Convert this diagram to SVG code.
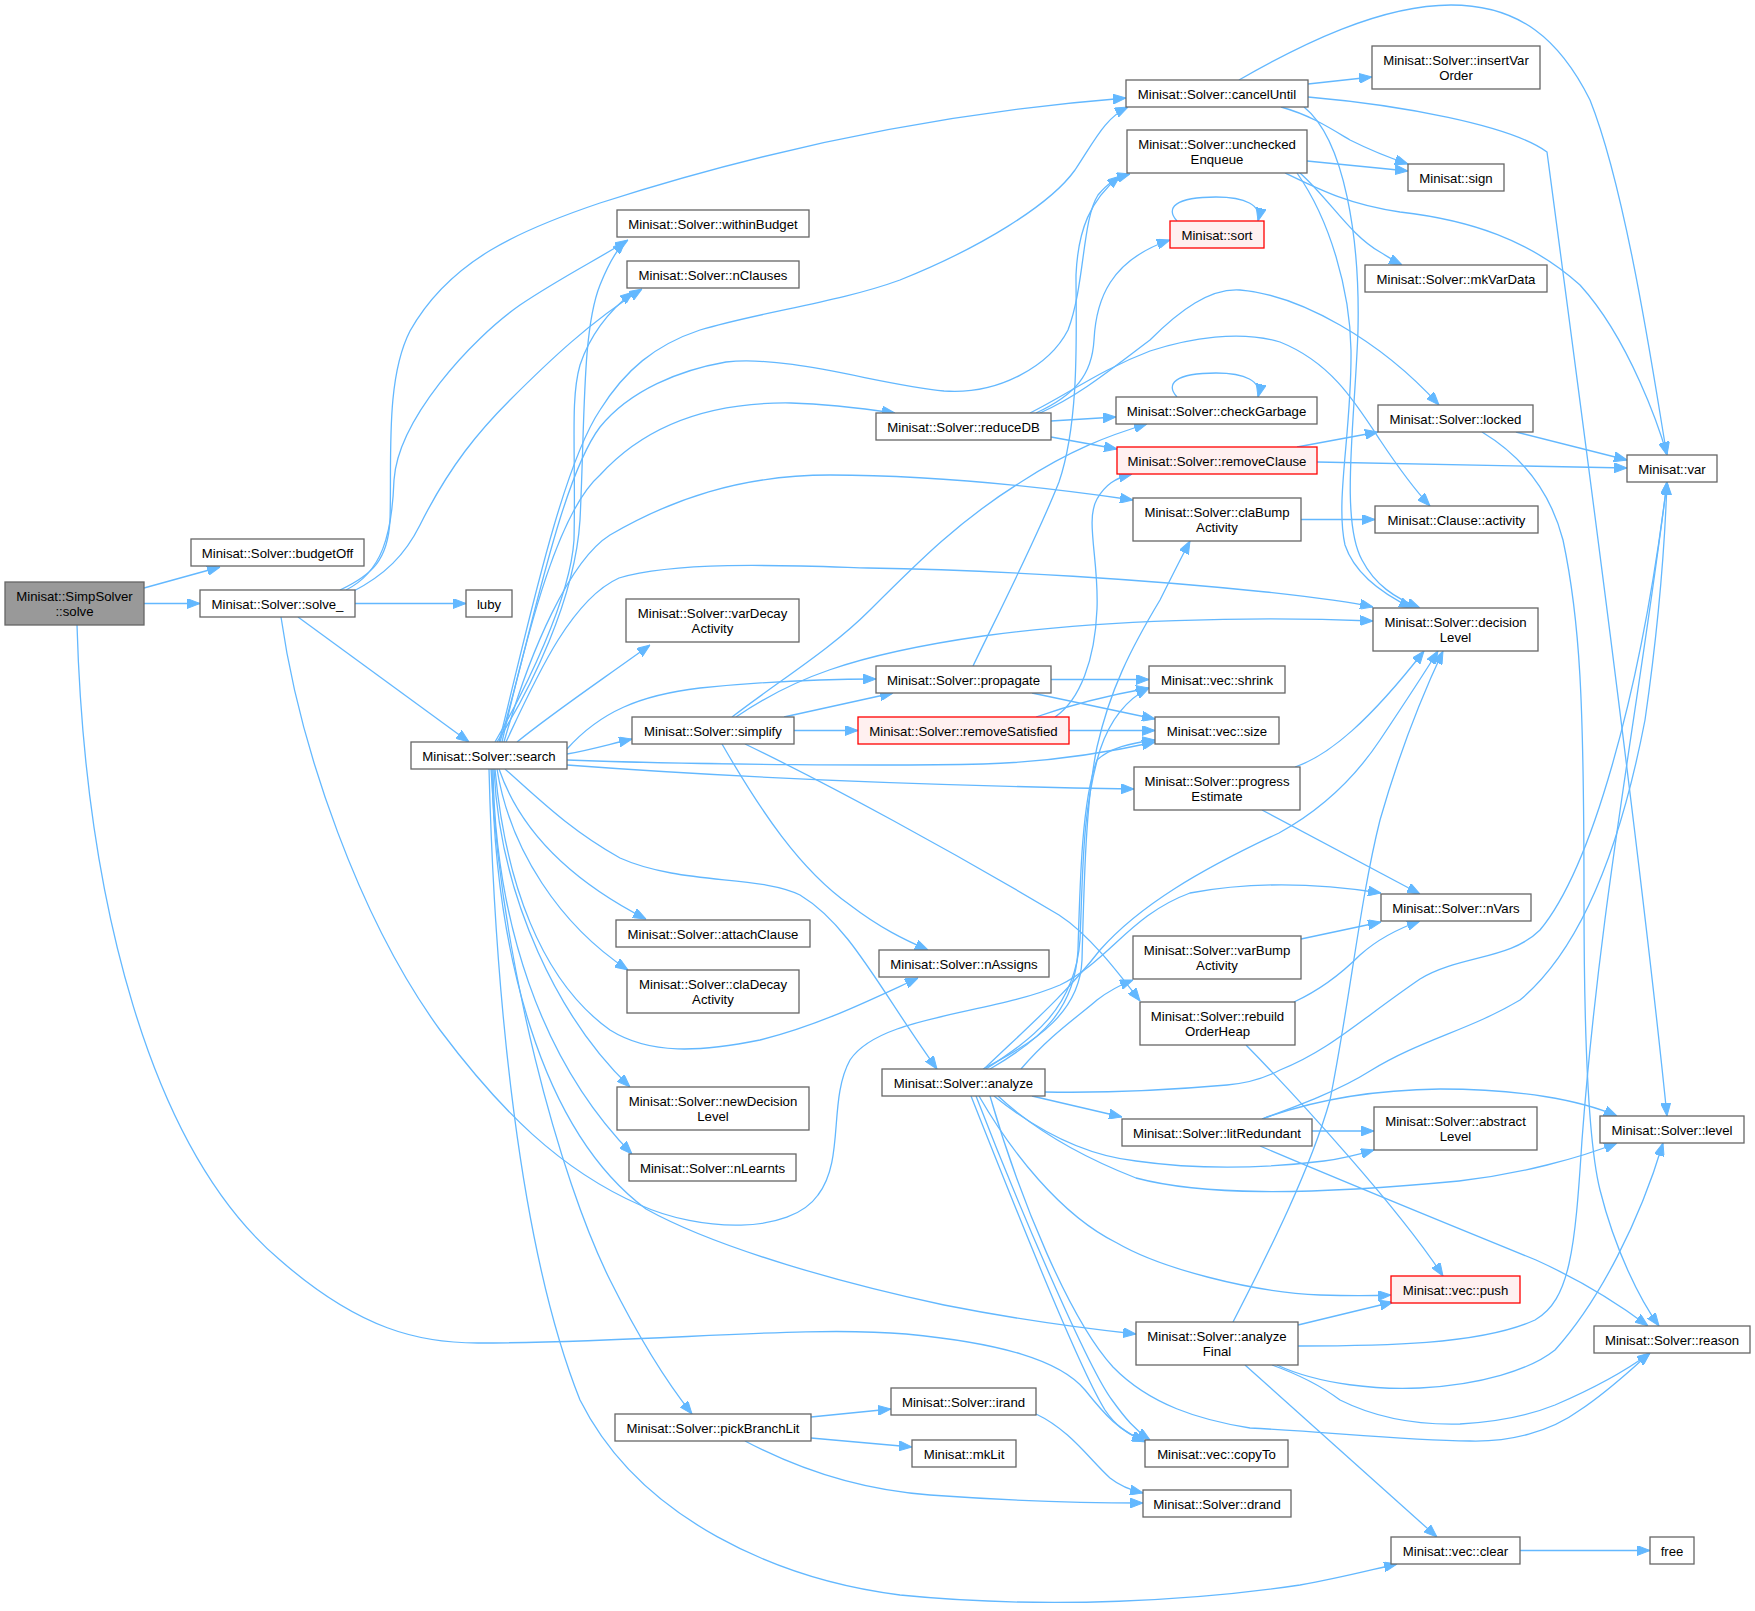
<svg xmlns="http://www.w3.org/2000/svg" width="1755" height="1611" viewBox="0 0 1755 1611">
<style>
.n rect{fill:#fff;stroke:#666;stroke-width:1.3}
.n.red rect{fill:#fff0f0;stroke:#ff0000}
.n.root rect{fill:#999;stroke:#666}
.n text{font-family:"Liberation Sans",Arial,sans-serif;font-size:13.2px;text-anchor:middle;fill:#000}
.e path{fill:none;stroke:#63b8ff;stroke-width:1.3;marker-end:url(#ah)}
</style>
<defs>
<marker id="ah" markerWidth="13" markerHeight="10" refX="13" refY="5" orient="auto" markerUnits="userSpaceOnUse">
<path d="M0,0 L13,5 L0,10 z" fill="#63b8ff" stroke="#63b8ff" stroke-width="1"/>
</marker>
</defs>
<rect width="1755" height="1611" fill="#fff"/>
<g id="edges" class="e">
<!-- SimpSolver::solve -->
<path d="M144,588 L220,567"/>
<path d="M144,603.5 L200,603.5"/>
<path d="M77,625 C85,900 150,1150 280,1260 C360,1330 420,1343 478,1343 C650,1343 800,1325 906,1334 C1000,1343 1060,1360 1085,1390 C1105,1415 1120,1432 1145,1441"/>
<!-- solve_ -->
<path d="M340,590 C372,575 388,560 390,520 C392,460 385,380 410,331 C450,260 520,230 600,203 C780,145 950,112 1126,98"/>
<path d="M346,590 C382,572 392,535 394,480 C398,420 470,340 520,305 C560,278 600,258 628,240"/>
<path d="M352,592 C385,575 405,555 420,525 C450,465 480,430 510,400 C550,360 590,322 642,289"/>
<path d="M355,603.5 L466,603.5"/>
<path d="M298,617 L469,742"/>
<path d="M281,617 C300,750 360,920 440,1030 C500,1110 560,1170 640,1205 C700,1232 790,1235 818,1195 C845,1160 828,1100 850,1060 C880,1015 990,1015 1060,985 C1110,960 1130,915 1190,893 C1260,880 1330,885 1381,893"/>
<!-- search top -->
<path d="M497,742 C530,690 575,600 580,520 C585,420 582,330 600,285 C608,265 615,252 625,241"/>
<path d="M495,742 C525,690 570,600 574,540 C576,450 570,400 580,365 C590,335 610,310 633,292"/>
<path d="M499,742 C525,640 560,470 600,410 C625,370 655,345 700,330 C760,312 840,302 900,280 C980,248 1050,205 1075,170 C1095,140 1105,118 1128,107"/>
<path d="M500,742 C530,640 560,480 600,427 C630,390 680,370 726,362 C790,355 880,385 944,391 C1000,395 1050,365 1068,330 C1085,285 1082,220 1098,195 C1108,183 1116,178 1130,174"/>
<path d="M502,742 C530,620 560,510 600,475 C650,420 720,402 791,403 C830,404 860,408 895,413"/>
<path d="M504,742 C530,650 570,560 610,535 C670,500 740,475 830,475 C940,475 1050,488 1133,500"/>
<path d="M506,742 C535,680 570,600 619,578 C680,560 800,566 868,568 C1000,570 1150,580 1266,592 C1320,598 1350,602 1373,607"/>
<path d="M517,742 C550,715 590,688 650,645"/>
<path d="M567,749 C600,712 640,695 700,688 C780,680 830,679 876,679"/>
<path d="M567,754 C590,750 610,744 632,739"/>
<path d="M567,760 C700,765 900,766 983,764 C1050,762 1110,752 1155,742"/>
<path d="M567,765 C700,775 900,785 1134,789"/>
<!-- search bottom -->
<path d="M505,769 C540,800 570,830 620,858 C680,885 760,875 800,895 C850,925 880,990 937,1069"/>
<path d="M499,769 C520,830 570,880 646,919"/>
<path d="M497,769 C510,850 560,925 628,970"/>
<path d="M495,769 C505,880 540,980 610,1030 C650,1055 700,1052 760,1040 C820,1025 870,1000 918,978"/>
<path d="M494,769 C500,900 560,1020 630,1087"/>
<path d="M493,769 C495,920 540,1060 632,1154"/>
<path d="M492,769 C495,950 540,1130 646,1209 C720,1250 850,1285 944,1305 C1020,1320 1080,1328 1136,1334"/>
<path d="M491,769 C500,960 560,1180 610,1280 C640,1340 665,1380 692,1414"/>
<path d="M489,769 C495,1000 520,1250 580,1400 C640,1520 780,1580 900,1595 C1050,1610 1200,1600 1300,1585 C1340,1578 1370,1570 1397,1564"/>
<!-- simplify -->
<path d="M784,717 L893,693"/>
<path d="M794,730.5 L858,730.5"/>
<path d="M732,717 C780,680 830,650 870,610 C920,560 960,520 1021,482 C1070,450 1110,435 1147,424"/>
<path d="M736,717 C790,680 850,655 983,636 C1100,620 1250,616 1373,621"/>
<path d="M722,744 C760,810 800,870 850,905 C880,928 905,940 928,950"/>
<path d="M745,744 C830,785 950,850 1059,915 C1090,935 1120,975 1140,1001"/>
<!-- removeSatisfied -->
<path d="M1036,717 C1070,705 1110,695 1149,688"/>
<path d="M1069,730.5 L1155,730.5"/>
<path d="M1055,717 C1080,700 1095,660 1097,609 C1099,560 1085,520 1097,499 C1105,485 1115,478 1132,474"/>
<!-- propagate -->
<path d="M1051,679.5 L1149,679.5"/>
<path d="M1032,693 L1155,719"/>
<path d="M973,666 C1000,610 1036,540 1059,482 C1080,420 1076,330 1076,275 C1078,230 1090,200 1120,176"/>
<!-- reduceDB -->
<path d="M1051,421 L1116,417"/>
<path d="M1051,437 L1117,449"/>
<path d="M1036,413 C1075,395 1092,375 1094,340 C1096,300 1110,260 1170,240"/>
<path d="M1040,413 C1080,395 1110,370 1150,340 C1180,310 1210,288 1240,290 C1300,295 1380,340 1439,405"/>
<path d="M1030,413 C1070,393 1100,370 1150,351 C1190,338 1240,330 1280,342 C1330,362 1354,400 1380,440 C1400,470 1415,490 1430,506"/>
<!-- sort / checkGarbage self loops -->
<path d="M1177,221 C1165,208 1175,197 1216,197 C1245,197 1262,205 1258,221"/>
<path d="M1177,397 C1165,384 1175,373 1216,373 C1245,373 1262,381 1258,397"/>
<!-- cancelUntil -->
<path d="M1308,84 L1372,77"/>
<path d="M1239,80 C1300,45 1380,5 1451,5 C1520,5 1560,40 1590,100 C1630,200 1660,420 1667,455"/>
<path d="M1308,97 C1400,105 1510,125 1547,152 C1580,400 1640,850 1667,1116"/>
<path d="M1281,107 C1310,115 1330,128 1350,140 C1370,150 1390,158 1408,164"/>
<path d="M1304,107 C1345,140 1360,240 1358,330 C1355,420 1340,520 1362,560 C1375,585 1395,598 1420,608"/>
<!-- uncheckedEnqueue -->
<path d="M1307,161 L1408,171"/>
<path d="M1285,173 C1320,190 1350,205 1400,212 C1470,220 1530,240 1580,285 C1630,340 1660,430 1667,455"/>
<path d="M1300,173 C1330,200 1350,235 1380,252 C1390,258 1396,262 1402,265"/>
<path d="M1297,173 C1330,220 1350,290 1351,350 C1352,430 1335,500 1345,545 C1355,575 1385,595 1412,608"/>
<!-- locked / removeClause / claBump -->
<path d="M1516,432 L1627,460"/>
<path d="M1482,432 C1520,455 1550,490 1563,540 C1580,620 1584,700 1584,900 C1584,1050 1590,1150 1600,1190 C1615,1250 1640,1300 1659,1326"/>
<path d="M1297,447 L1378,432"/>
<path d="M1317,462 L1627,468"/>
<path d="M1301,519.5 L1375,519.5"/>
<!-- progressEstimate / varBump / rebuild -->
<path d="M1295,767 C1330,755 1370,720 1424,651"/>
<path d="M1262,810 L1420,894"/>
<path d="M1301,939 L1381,922"/>
<path d="M1294,1002 C1320,990 1340,975 1360,955 C1380,937 1400,928 1420,921"/>
<path d="M1246,1045 C1300,1100 1400,1210 1443,1276"/>
<!-- analyze -->
<path d="M983,1069 C1040,1040 1080,1010 1082,960 C1084,880 1086,800 1097,747 C1110,690 1130,650 1160,600 C1170,580 1180,560 1190,541"/>
<path d="M986,1069 C1030,1040 1075,1010 1080,940 C1083,870 1082,810 1100,750 C1110,720 1125,700 1149,688"/>
<path d="M990,1069 C1040,1040 1075,1010 1078,950 C1080,880 1082,800 1097,760 C1110,748 1130,743 1155,740"/>
<path d="M984,1069 C1030,1025 1065,995 1100,950 C1140,905 1200,870 1279,833 C1330,805 1360,770 1380,740 C1400,710 1420,680 1438,651"/>
<path d="M1021,1069 C1050,1035 1080,1015 1097,1000 C1110,990 1120,985 1133,980"/>
<path d="M1032,1096 L1122,1117"/>
<path d="M1045,1092 C1100,1093 1170,1090 1227,1085 C1250,1083 1265,1078 1280,1070 C1330,1050 1360,1020 1420,979 C1460,955 1510,960 1540,930 C1590,870 1640,700 1667,482"/>
<path d="M994,1096 C1030,1125 1080,1155 1136,1161 C1200,1170 1260,1169 1324,1161 C1345,1158 1360,1154 1374,1150"/>
<path d="M998,1096 C1040,1135 1090,1160 1136,1178 C1200,1195 1300,1196 1459,1181 C1520,1174 1580,1158 1617,1143"/>
<path d="M979,1096 C1010,1150 1060,1215 1117,1243 C1160,1268 1250,1292 1320,1295 C1350,1296 1370,1296 1391,1295"/>
<path d="M990,1096 C1020,1200 1070,1320 1113,1367 C1150,1405 1200,1420 1250,1428 C1330,1432 1400,1440 1470,1441 C1510,1442 1550,1432 1580,1410 C1610,1390 1630,1370 1650,1353"/>
<path d="M971,1096 C1020,1220 1080,1370 1105,1410 C1115,1425 1125,1432 1145,1442"/>
<path d="M976,1096 C1020,1210 1088,1368 1112,1400 C1125,1418 1135,1430 1150,1440"/>
<!-- litRedundant -->
<path d="M1312,1131 L1374,1131"/>
<path d="M1262,1119 C1300,1105 1360,1090 1440,1089 C1520,1089 1580,1100 1617,1116"/>
<path d="M1262,1119 C1300,1105 1340,1090 1370,1071 C1420,1040 1470,1030 1520,1000 C1580,950 1620,850 1645,720 C1658,630 1665,540 1667,482"/>
<path d="M1260,1146 C1340,1180 1450,1225 1536,1260 C1580,1280 1620,1305 1648,1326"/>
<!-- analyzeFinal -->
<path d="M1233,1322 C1270,1250 1310,1170 1330,1100 C1350,1000 1360,900 1380,820 C1400,750 1420,700 1443,651"/>
<path d="M1298,1325 L1393,1302"/>
<path d="M1298,1346 C1380,1346 1480,1345 1535,1320 C1570,1300 1575,1250 1582,1140 C1600,900 1640,700 1667,482"/>
<path d="M1277,1365 C1320,1385 1380,1390 1420,1388 C1480,1385 1530,1370 1555,1350 C1600,1300 1640,1220 1663,1143"/>
<path d="M1272,1365 C1300,1375 1320,1385 1340,1400 C1380,1420 1420,1425 1460,1424 C1500,1422 1530,1415 1555,1405 C1590,1390 1620,1375 1650,1353"/>
<path d="M1245,1365 L1437,1537"/>
<!-- pickBranchLit / irand / clear -->
<path d="M811,1417 L891,1409"/>
<path d="M811,1438 L912,1447"/>
<path d="M745,1441 C800,1470 860,1490 930,1495 C1000,1500 1080,1503 1143,1503"/>
<path d="M1036,1414 C1070,1430 1090,1460 1110,1478 C1120,1486 1130,1490 1143,1493"/>
<path d="M1520,1550.5 L1650,1550.5"/>
</g>
<g id="n_solve" class="n root"><rect x="5" y="582" width="139" height="43"/><text x="74.5" y="601">Minisat::SimpSolver</text><text x="74.5" y="616">::solve</text></g>
<g id="n_budgetOff" class="n"><rect x="191" y="539" width="173" height="27"/><text x="277.5" y="557.5">Minisat::Solver::budgetOff</text></g>
<g id="n_solve_" class="n"><rect x="200" y="590" width="155" height="27"/><text x="277.5" y="608.5">Minisat::Solver::solve_</text></g>
<g id="n_luby" class="n"><rect x="466" y="590" width="46" height="27"/><text x="489" y="608.5">luby</text></g>
<g id="n_search" class="n"><rect x="411" y="742" width="156" height="27"/><text x="489" y="760.5">Minisat::Solver::search</text></g>
<g id="n_withinBudget" class="n"><rect x="617" y="210" width="192" height="27"/><text x="713" y="228.5">Minisat::Solver::withinBudget</text></g>
<g id="n_nClauses" class="n"><rect x="627" y="261" width="172" height="27"/><text x="713" y="279.5">Minisat::Solver::nClauses</text></g>
<g id="n_cancelUntil" class="n"><rect x="1126" y="80" width="182" height="27"/><text x="1217" y="98.5">Minisat::Solver::cancelUntil</text></g>
<g id="n_uncheckedEnqueue" class="n"><rect x="1127" y="130" width="180" height="43"/><text x="1217" y="149">Minisat::Solver::unchecked</text><text x="1217" y="164">Enqueue</text></g>
<g id="n_sort" class="n red"><rect x="1170" y="221" width="94" height="27"/><text x="1217" y="239.5">Minisat::sort</text></g>
<g id="n_reduceDB" class="n"><rect x="876" y="413" width="175" height="27"/><text x="963.5" y="431.5">Minisat::Solver::reduceDB</text></g>
<g id="n_checkGarbage" class="n"><rect x="1116" y="397" width="201" height="27"/><text x="1216.5" y="415.5">Minisat::Solver::checkGarbage</text></g>
<g id="n_removeClause" class="n red"><rect x="1117" y="447" width="200" height="27"/><text x="1217" y="465.5">Minisat::Solver::removeClause</text></g>
<g id="n_claBumpActivity" class="n"><rect x="1133" y="498" width="168" height="43"/><text x="1217" y="517">Minisat::Solver::claBump</text><text x="1217" y="532">Activity</text></g>
<g id="n_insertVarOrder" class="n"><rect x="1372" y="46" width="168" height="43"/><text x="1456" y="65">Minisat::Solver::insertVar</text><text x="1456" y="80">Order</text></g>
<g id="n_sign" class="n"><rect x="1408" y="164" width="96" height="27"/><text x="1456" y="182.5">Minisat::sign</text></g>
<g id="n_mkVarData" class="n"><rect x="1365" y="265" width="182" height="27"/><text x="1456" y="283.5">Minisat::Solver::mkVarData</text></g>
<g id="n_locked" class="n"><rect x="1378" y="405" width="155" height="27"/><text x="1455.5" y="423.5">Minisat::Solver::locked</text></g>
<g id="n_var" class="n"><rect x="1627" y="455" width="90" height="27"/><text x="1672" y="473.5">Minisat::var</text></g>
<g id="n_activity" class="n"><rect x="1375" y="506" width="163" height="27"/><text x="1456.5" y="524.5">Minisat::Clause::activity</text></g>
<g id="n_varDecayActivity" class="n"><rect x="626" y="599" width="173" height="43"/><text x="712.5" y="618">Minisat::Solver::varDecay</text><text x="712.5" y="633">Activity</text></g>
<g id="n_propagate" class="n"><rect x="876" y="666" width="175" height="27"/><text x="963.5" y="684.5">Minisat::Solver::propagate</text></g>
<g id="n_simplify" class="n"><rect x="632" y="717" width="162" height="27"/><text x="713" y="735.5">Minisat::Solver::simplify</text></g>
<g id="n_removeSatisfied" class="n red"><rect x="858" y="717" width="211" height="27"/><text x="963.5" y="735.5">Minisat::Solver::removeSatisfied</text></g>
<g id="n_attachClause" class="n"><rect x="616" y="920" width="194" height="27"/><text x="713" y="938.5">Minisat::Solver::attachClause</text></g>
<g id="n_claDecayActivity" class="n"><rect x="627" y="970" width="172" height="43"/><text x="713" y="989">Minisat::Solver::claDecay</text><text x="713" y="1004">Activity</text></g>
<g id="n_nAssigns" class="n"><rect x="879" y="950" width="170" height="27"/><text x="964" y="968.5">Minisat::Solver::nAssigns</text></g>
<g id="n_analyze" class="n"><rect x="882" y="1069" width="163" height="27"/><text x="963.5" y="1087.5">Minisat::Solver::analyze</text></g>
<g id="n_decisionLevel" class="n"><rect x="1373" y="608" width="165" height="43"/><text x="1455.5" y="627">Minisat::Solver::decision</text><text x="1455.5" y="642">Level</text></g>
<g id="n_shrink" class="n"><rect x="1149" y="666" width="136" height="27"/><text x="1217" y="684.5">Minisat::vec::shrink</text></g>
<g id="n_size" class="n"><rect x="1155" y="717" width="124" height="27"/><text x="1217" y="735.5">Minisat::vec::size</text></g>
<g id="n_progressEstimate" class="n"><rect x="1134" y="767" width="166" height="43"/><text x="1217" y="786">Minisat::Solver::progress</text><text x="1217" y="801">Estimate</text></g>
<g id="n_nVars" class="n"><rect x="1381" y="894" width="150" height="27"/><text x="1456" y="912.5">Minisat::Solver::nVars</text></g>
<g id="n_varBumpActivity" class="n"><rect x="1133" y="936" width="168" height="43"/><text x="1217" y="955">Minisat::Solver::varBump</text><text x="1217" y="970">Activity</text></g>
<g id="n_rebuildOrderHeap" class="n"><rect x="1140" y="1002" width="155" height="43"/><text x="1217.5" y="1021">Minisat::Solver::rebuild</text><text x="1217.5" y="1036">OrderHeap</text></g>
<g id="n_newDecisionLevel" class="n"><rect x="617" y="1087" width="192" height="43"/><text x="713" y="1106">Minisat::Solver::newDecision</text><text x="713" y="1121">Level</text></g>
<g id="n_nLearnts" class="n"><rect x="629" y="1154" width="167" height="27"/><text x="712.5" y="1172.5">Minisat::Solver::nLearnts</text></g>
<g id="n_litRedundant" class="n"><rect x="1122" y="1119" width="190" height="27"/><text x="1217" y="1137.5">Minisat::Solver::litRedundant</text></g>
<g id="n_analyzeFinal" class="n"><rect x="1136" y="1322" width="162" height="43"/><text x="1217" y="1341">Minisat::Solver::analyze</text><text x="1217" y="1356">Final</text></g>
<g id="n_irand" class="n"><rect x="891" y="1388" width="145" height="27"/><text x="963.5" y="1406.5">Minisat::Solver::irand</text></g>
<g id="n_pickBranchLit" class="n"><rect x="615" y="1414" width="196" height="27"/><text x="713" y="1432.5">Minisat::Solver::pickBranchLit</text></g>
<g id="n_mkLit" class="n"><rect x="912" y="1440" width="104" height="27"/><text x="964" y="1458.5">Minisat::mkLit</text></g>
<g id="n_copyTo" class="n"><rect x="1145" y="1440" width="143" height="27"/><text x="1216.5" y="1458.5">Minisat::vec::copyTo</text></g>
<g id="n_drand" class="n"><rect x="1143" y="1490" width="148" height="27"/><text x="1217" y="1508.5">Minisat::Solver::drand</text></g>
<g id="n_abstractLevel" class="n"><rect x="1374" y="1107" width="163" height="43"/><text x="1455.5" y="1126">Minisat::Solver::abstract</text><text x="1455.5" y="1141">Level</text></g>
<g id="n_level" class="n"><rect x="1600" y="1116" width="144" height="27"/><text x="1672" y="1134.5">Minisat::Solver::level</text></g>
<g id="n_push" class="n red"><rect x="1391" y="1276" width="129" height="27"/><text x="1455.5" y="1294.5">Minisat::vec::push</text></g>
<g id="n_reason" class="n"><rect x="1594" y="1326" width="156" height="27"/><text x="1672" y="1344.5">Minisat::Solver::reason</text></g>
<g id="n_clear" class="n"><rect x="1391" y="1537" width="129" height="27"/><text x="1455.5" y="1555.5">Minisat::vec::clear</text></g>
<g id="n_free" class="n"><rect x="1650" y="1537" width="44" height="27"/><text x="1672" y="1555.5">free</text></g>
</svg>
